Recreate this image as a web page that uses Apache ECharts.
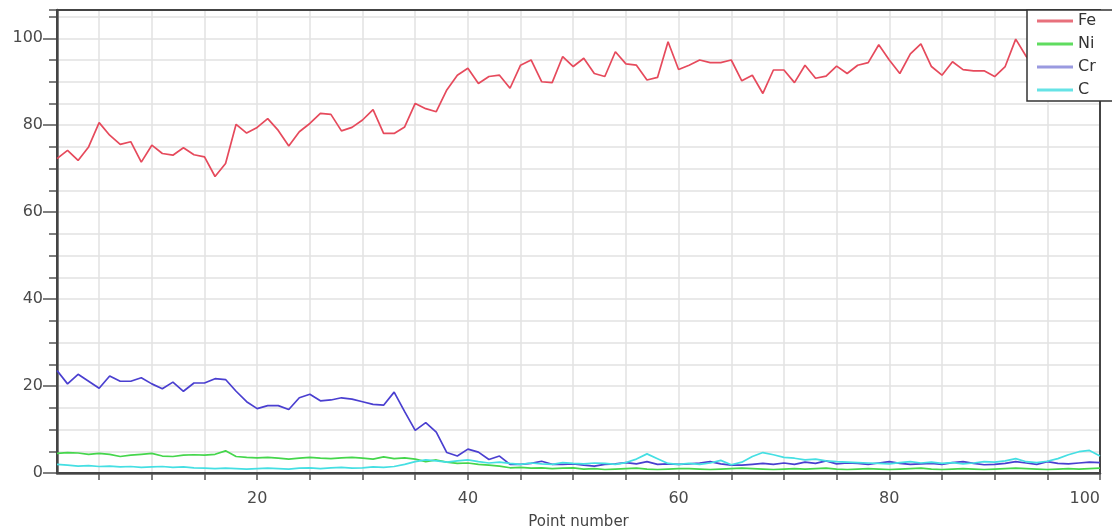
<!DOCTYPE html>
<html>
<head>
<meta charset="utf-8">
<script src="https://cdn.jsdelivr.net/npm/echarts@6/dist/echarts.min.js"></script>
<style>
html,body{margin:0;padding:0;background:#fff;}
#chart{width:1112px;height:532px;}
</style>
</head>
<body>
<div id="chart"></div>
<script>
// Point numbers 1..100 (x categories)
const pointNumbers = [];
for (let i = 1; i <= 100; i++) pointNumbers.push(String(i));

const seriesNames = ['Fe', 'Ni', 'Cr', 'C'];

const fe = [72.3,74.2,71.9,75,80.6,77.7,75.6,76.2,71.5,75.4,
  73.5,73.1,74.8,73.2,72.7,68.2,71.2,80.2,78.2,79.5,
  81.5,78.8,75.2,78.5,80.4,82.7,82.5,78.7,79.5,81.2,
  83.6,78.1,78.1,79.6,85,83.8,83.1,88.1,91.5,93.1,
  89.6,91.2,91.5,88.5,93.8,95,90,89.8,95.8,93.5,
  95.4,91.9,91.2,96.9,94.1,93.8,90.4,91,99.2,92.8,
  93.8,95,94.4,94.4,95,90.2,91.5,87.3,92.7,92.7,
  89.8,93.8,90.8,91.3,93.6,91.9,93.8,94.4,98.5,95,
  91.9,96.4,98.7,93.5,91.5,94.6,92.8,92.5,92.5,91.2,
  93.5,99.8,95.8,93,94,92,95,93,96,94];

const ni = [4.5,4.7,4.6,4.3,4.5,4.3,3.8,4.1,4.3,4.5,
  3.9,3.8,4.1,4.2,4.1,4.3,5.1,3.8,3.6,3.5,
  3.6,3.4,3.2,3.4,3.6,3.4,3.3,3.5,3.6,3.4,
  3.2,3.7,3.3,3.5,3.2,2.6,3.0,2.5,2.2,2.3,
  2.0,1.8,1.6,1.2,1.3,1.1,1.2,1.0,1.1,1.2,
  0.9,1.0,0.8,0.9,1.0,1.1,0.9,0.8,0.9,1.0,
  1.0,0.9,0.8,0.9,1.0,1.1,1.0,0.9,0.8,0.9,
  1.0,0.9,1.0,1.1,0.9,0.8,0.9,1.0,0.9,0.8,
  0.9,1.0,1.1,0.9,0.8,0.9,1.0,0.9,0.8,0.9,
  1.0,1.1,1.0,0.9,0.8,0.9,1.0,0.9,1.0,1.1];

const cr = [23.6,20.5,22.7,21.1,19.5,22.3,21.1,21.1,21.9,20.5,
  19.4,20.9,18.8,20.7,20.7,21.7,21.5,18.8,16.4,14.8,
  15.5,15.5,14.6,17.3,18.1,16.6,16.8,17.3,17.0,16.4,
  15.8,15.6,18.6,14.1,9.8,11.6,9.4,4.7,3.9,5.5,
  4.8,3.1,3.9,2.0,2.0,2.2,2.7,2.0,2.0,2.1,
  1.8,1.6,2.0,2.1,2.4,2.1,2.6,2.0,2.1,2.0,
  2.1,2.3,2.6,2.1,1.8,1.8,2.0,2.2,2.0,2.3,
  2.0,2.5,2.2,2.8,2.1,2.3,2.2,2.0,2.3,2.6,
  2.2,2.0,2.1,2.2,2.0,2.4,2.6,2.2,1.9,2.0,
  2.2,2.6,2.3,2.0,2.6,2.2,2.1,2.3,2.5,2.4];

const c = [2.0,1.8,1.6,1.7,1.5,1.6,1.4,1.5,1.3,1.4,
  1.5,1.3,1.4,1.2,1.1,1.0,1.1,1.0,0.9,1.0,
  1.1,1.0,0.9,1.1,1.2,1.0,1.2,1.3,1.1,1.2,
  1.4,1.3,1.5,2.0,2.6,3.0,2.8,2.5,2.8,3.0,
  2.6,2.3,2.5,2.2,2.0,2.3,2.1,2.0,2.4,2.2,
  2.1,2.3,2.2,2.0,2.4,3.2,4.4,3.3,2.2,2.0,
  2.2,2.0,2.3,2.9,1.9,2.5,3.8,4.7,4.2,3.6,
  3.4,3.0,3.2,2.8,2.6,2.5,2.4,2.3,2.2,2.1,
  2.4,2.6,2.3,2.5,2.2,2.4,2.1,2.3,2.6,2.5,
  2.8,3.3,2.6,2.4,2.7,3.3,4.2,4.9,5.2,3.9];

const xLabelEvery = 20;
const xTickEvery = 5;
const yMajorTicks = [0, 20, 40, 60, 80, 100];

const colors = ['#e64a5c', '#45d64c', '#4a3fd0', '#45dfe3'];
const legendColors = ['#e8707c', '#5fdc5f', '#9a9ae0', '#66e3e6'];
const values = [fe, ni, cr, c];

const chart = echarts.init(document.getElementById('chart'), null, {renderer: 'canvas'});
const font = 'DejaVu Sans';

chart.setOption({
  animation: false,
  backgroundColor: '#fff',
  textStyle: {fontFamily: font},
  grid: {left: 57, right: 12, top: 10, bottom: 59, show: true, borderColor: '#444', borderWidth: 2,
    containLabel: false, outerBoundsMode: 'none', z: 3},
  legend: {
    orient: 'vertical', left: 1027, top: 10,
    padding: [3, 30, 3, 10],
    icon: 'rect',
    itemWidth: 36, itemHeight: 3, itemGap: 7,
    backgroundColor: '#fff', borderColor: '#333', borderWidth: 1.5,
    textStyle: {fontFamily: font, fontSize: 16, color: '#333'},
    data: seriesNames.map(function (n, i) { return {name: n, itemStyle: {color: legendColors[i]}}; })
  },
  xAxis: {
    type: 'category', data: pointNumbers, boundaryGap: false,
    name: 'Point number', nameLocation: 'middle', nameGap: 42,
    nameTextStyle: {fontFamily: font, fontSize: 15, color: '#444'},
    axisLine: {show: true, lineStyle: {color: '#555', width: 2.5}},
    axisTick: {show: true, length: 7, lineStyle: {color: '#555', width: 1.5},
      interval: function (idx) { return (idx + 1) % xTickEvery === 0; }},
    axisLabel: {fontFamily: font, fontSize: 16, color: '#4a4a4a', margin: 18,
      alignMaxLabel: 'right',
      interval: function (idx) { return (idx + 1) % xLabelEvery === 0; }},
    splitLine: {show: true, lineStyle: {color: '#e2e2e2', width: 1.5},
      interval: function (idx) { return (idx + 1) % xTickEvery === 0; }}
  },
  yAxis: [{
    type: 'value', min: 0, max: 106.5, interval: 5, position: 'left',
    axisLine: {show: true, lineStyle: {color: '#555', width: 2.5}},
    axisTick: {show: true, length: 8, lineStyle: {color: '#555', width: 1.5}},
    axisLabel: {fontFamily: font, fontSize: 16, color: '#4a4a4a', margin: 14,
      formatter: function (v) { return yMajorTicks.indexOf(v) >= 0 ? String(v) : ''; }},
    splitLine: {show: true, lineStyle: {color: '#e2e2e2', width: 1.5}}
  }, {
    type: 'value', min: 0, max: 106.5, interval: 20, position: 'left', offset: 0,
    axisLine: {show: false},
    axisTick: {show: true, length: 14, lineStyle: {color: '#555', width: 1.5}, customValues: yMajorTicks},
    axisLabel: {show: false},
    splitLine: {show: false}
  }],
  series: seriesNames.map(function (name, i) {
    return {
      name: name, type: 'line', data: values[i], symbol: 'none', showSymbol: false,
      xAxisIndex: 0, yAxisIndex: 0,
      itemStyle: {color: colors[i]},
      lineStyle: {color: colors[i], width: 1.7}
    };
  })
});
</script>
</body>
</html>
